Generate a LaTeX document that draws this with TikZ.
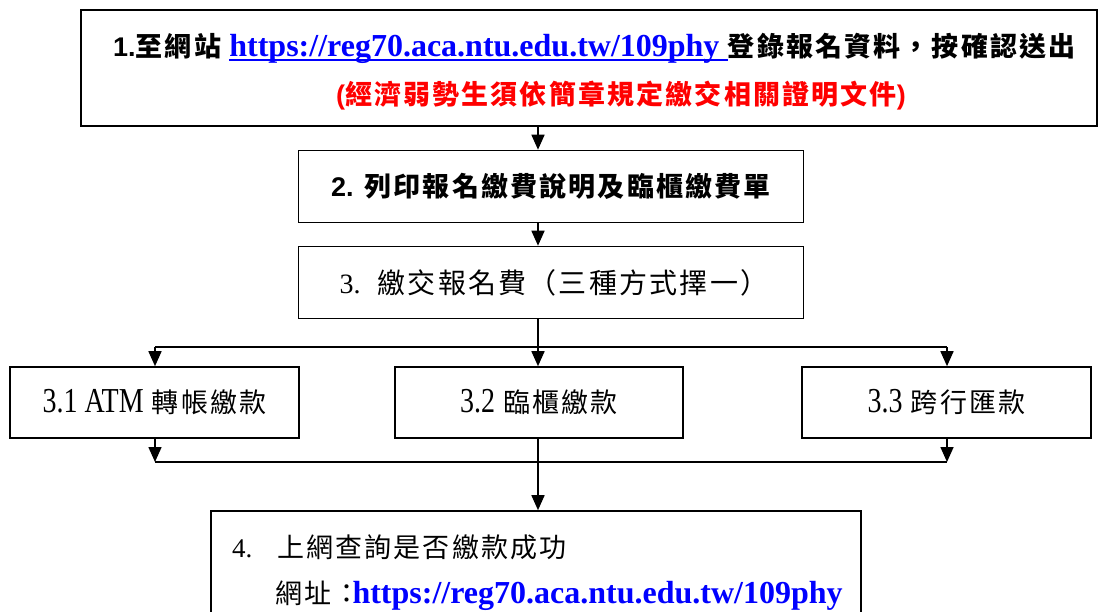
\documentclass[tikz,border=0pt]{standalone}
\usepackage{fontspec}
\usepackage{tikz}
\usetikzlibrary{positioning, arrows.meta}
\setmainfont{Liberation Serif}
\newfontfamily\cjk[LetterSpace=8]{Noto Sans CJK TC}
\newfontfamily\arial{Liberation Sans}
\newfontfamily\narrow[FakeStretch=0.8]{Liberation Serif}
\definecolor{linkb}{RGB}{0,0,255}
\definecolor{warnr}{RGB}{255,0,0}
\newsavebox{\ulbox}
\newcommand{\ulink}[1]{\sbox{\ulbox}{#1}%
  \textcolor{linkb}{\rlap{\rule[-4.5pt]{\wd\ulbox}{2.4pt}}}\usebox{\ulbox}}
\newcommand{\regurl}{\textcolor{linkb}{\rmfamily\fontsize{32}{35}\selectfont\bfseries https://reg70.aca.ntu.edu.tw/109phy}}
\newcommand{\stepno}[1]{{\narrow\fontsize{35}{38}\selectfont #1}}

\begin{document}
\begin{tikzpicture}[x=1pt, y=-1pt,
        box/.style={draw, line width=1.6pt, inner sep=0pt, fill=white},
        txt/.style={inner sep=0pt, font=\cjk\fontsize{27}{32}\selectfont},
        ln/.style={line width=1.6pt},
        ->/.style={-{Triangle[length=15pt, width=13pt]}, line width=1.6pt}]
      \useasboundingbox (0,0) rectangle (1102,612);
      \clip (0,0) rectangle (1102,612);
      \fill[white] (0,0) rectangle (1102,612);
      % boxes
      \node[box, txt, minimum width=1016, minimum height=116] (b1) at (589,68) {};
      \node[box, txt, minimum width=505, minimum height=72] (b2) at (551,186.5)
        {{\arial\bfseries 2.} \bfseries 列印報名繳費說明及臨櫃繳費單};
      \node[box, txt, minimum width=505, minimum height=72] (b3) at (551,282.5)
        {\hspace{6pt}\fontsize{28}{32}\selectfont{\rmfamily 3.}\ \ 繳交報名費（三種方式擇一）};
      \node[box, txt, minimum width=289, minimum height=71] (b31) at (154.5,402.5)
        {\stepno{3.1 ATM} 轉帳繳款};
      \node[box, txt, minimum width=288, minimum height=71] (b32) at (539,402.5)
        {\stepno{3.2} 臨櫃繳款};
      \node[box, txt, minimum width=289, minimum height=71] (b33) at (946.5,402.5)
        {\stepno{3.3} 跨行匯款};
      \node[box, txt, minimum width=650, minimum height=190] (b4) at (536,606) {};
      % texts in box 1 and box 4
      \node[txt, anchor=base west] (t1a) at (113,57)
        {{\arial\bfseries 1.}\bfseries 至網站 \ulink{\regurl\ }登錄報名資料，按確認送出};
      \node[txt, text=warnr, anchor=base] (t1b) at (621,105)
        {\bfseries {\arial(}經濟弱勢生須依簡章規定繳交相關證明文件{\arial)}};
      \node[txt, anchor=base west] (t4a) at (232,557)
        {{\rmfamily 4.}\ \ \ 上網查詢是否繳款成功};
      \node[txt, anchor=base west] (t4b) at (275,603)
        {網址：\hspace{-8pt}\regurl};
      % connectors
      \coordinate (sp) at (538,0);
      \coordinate (f1) at (155,347);
      \coordinate (f3) at (947,347);
      \coordinate (j1) at (155,462);
      \coordinate (j3) at (947,462);
      \draw [->] (b1.south -| sp) -- (b2.north -| sp);
      \draw [->] (b2.south -| sp) -- (b3.north -| sp);
      \draw [->] (b3.south -| sp) -- (b32.north -| sp);
      \draw [ln] (f1) -- (f3);
      \draw [->] (f1) -- (b31.north -| f1);
      \draw [->] (f3) -- (b33.north -| f3);
      \draw [->] (b31.south -| j1) -- (j1);
      \draw [->] (b33.south -| j3) -- (j3);
      \draw [ln] (j1) -- (j3);
      \draw [->] (b32.south -| sp) -- (b4.north -| sp);
    \end{tikzpicture}
\end{document}
